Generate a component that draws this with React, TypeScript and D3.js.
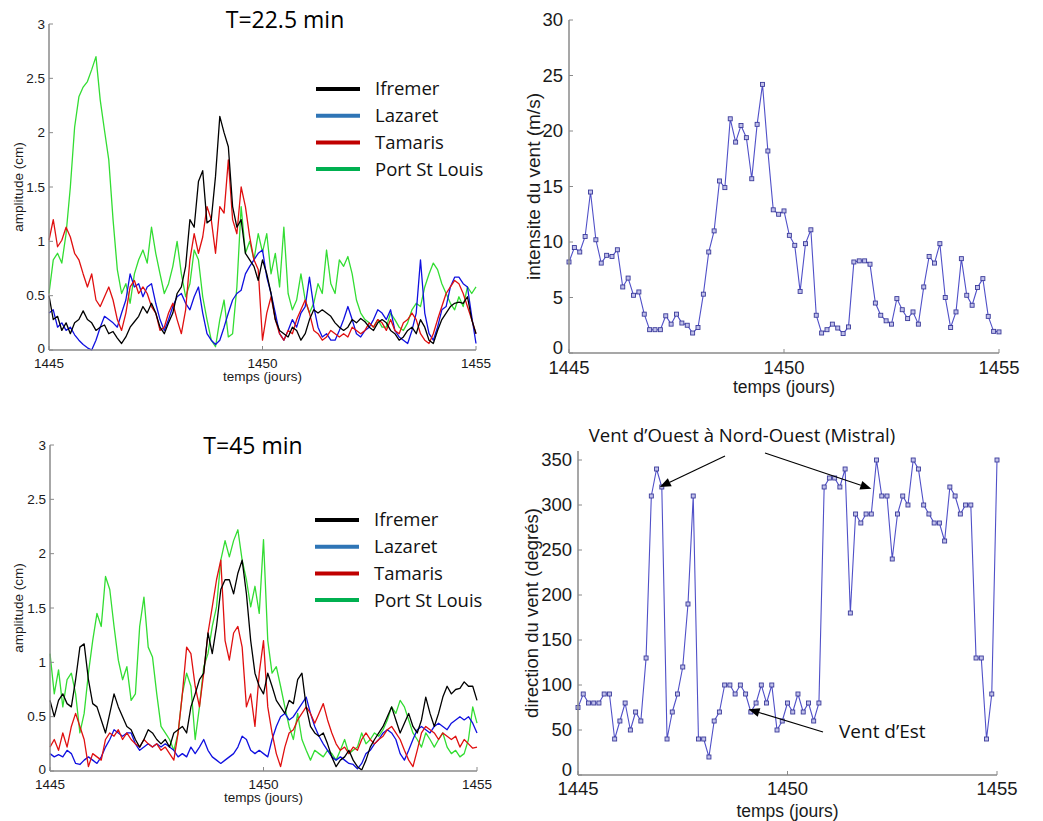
import React from "react";
import * as d3 from "d3";

// ---------- DATA ----------
const X_TICKS = [1445, 1450, 1455];
const AMP_TICKS = [0, 0.5, 1, 1.5, 2, 2.5, 3];
const SPEED_TICKS = [0, 5, 10, 15, 20, 25, 30];
const DIR_TICKS = [0, 50, 100, 150, 200, 250, 300, 350];

const STATIONS = ["Ifremer", "Lazaret", "Tamaris", "Port St Louis"];
const LINE_COLORS = ["#000000", "#1010e0", "#e01010", "#33dd33"];
const LEGEND_COLORS = ["#000000", "#2e75b6", "#c00000", "#00b050"];

// amplitudes every 0.1 day from 1445.0 to 1455.0 (101 values)
const T22_ifremer = [
  0.5, 0.28, 0.31, 0.18, 0.25, 0.15, 0.25, 0.28, 0.36, 0.28,
  0.25, 0.18, 0.21, 0.23, 0.15, 0.17, 0.11, 0.06, 0.12, 0.21,
  0.26, 0.31, 0.4, 0.34, 0.43, 0.34, 0.21, 0.15, 0.25, 0.34,
  0.52, 0.58, 0.77, 1.2, 1.13, 1.55, 1.65, 1.17, 1.2, 1.6,
  2.15, 2.0, 1.87, 1.32, 1.13, 1.2, 0.89, 0.83, 0.77, 0.64,
  0.83, 0.7, 0.52, 0.28, 0.18, 0.15, 0.12, 0.21, 0.18, 0.09,
  0.15, 0.28, 0.37, 0.34, 0.37, 0.34, 0.31, 0.25, 0.21, 0.18,
  0.21, 0.28, 0.25, 0.29, 0.26, 0.21, 0.18, 0.25, 0.28, 0.25,
  0.18, 0.15, 0.09, 0.12, 0.18, 0.21, 0.15, 0.28, 0.21, 0.09,
  0.06, 0.18, 0.28, 0.34, 0.4, 0.43, 0.44, 0.43, 0.49, 0.28,
  0.15,
];
const T22_lazaret = [
  0.34, 0.37, 0.21, 0.25, 0.18, 0.21, 0.14, 0.09, 0.05, 0.02,
  0.0, 0.09, 0.21, 0.31, 0.28, 0.25, 0.21, 0.34, 0.46, 0.7,
  0.58, 0.61, 0.49, 0.58, 0.61, 0.43, 0.28, 0.18, 0.28, 0.4,
  0.49, 0.52, 0.43, 0.37, 0.49, 0.58, 0.34, 0.15, 0.09, 0.05,
  0.09, 0.21, 0.34, 0.46, 0.52, 0.55, 0.7, 0.77, 0.83, 0.89,
  0.92, 0.67, 0.52, 0.34, 0.15, 0.09, 0.18, 0.28, 0.21, 0.34,
  0.4, 0.67, 0.4, 0.21, 0.12, 0.15, 0.09, 0.09, 0.18, 0.28,
  0.4, 0.28, 0.15, 0.12, 0.18, 0.21, 0.28, 0.37, 0.34, 0.28,
  0.37, 0.18, 0.12, 0.09, 0.06, 0.18, 0.34, 0.83, 0.34, 0.15,
  0.09, 0.21, 0.37, 0.4, 0.58, 0.67, 0.67, 0.61, 0.58, 0.31,
  0.06,
];
const T22_tamaris = [
  1.01, 1.2, 0.95, 1.01, 1.13, 1.04, 0.89, 0.83, 0.7, 0.58,
  0.7, 0.46, 0.4, 0.49, 0.58, 0.46, 0.28, 0.18, 0.34, 0.58,
  0.64, 0.52, 0.58, 0.52, 0.4, 0.34, 0.18, 0.21, 0.34, 0.43,
  0.28, 0.15, 0.37, 0.83, 1.07, 0.89, 1.04, 1.32, 1.2, 0.89,
  1.32, 1.26, 1.75, 1.2, 1.07, 1.5, 1.32, 1.04, 0.83, 0.74,
  0.09, 0.34, 0.49, 0.28, 0.15, 0.09, 0.18, 0.15, 0.28, 0.37,
  0.46, 0.34, 0.18, 0.15, 0.09, 0.12, 0.18, 0.15, 0.12, 0.15,
  0.12, 0.21, 0.18, 0.15, 0.18, 0.25, 0.21, 0.28, 0.25, 0.18,
  0.28, 0.18, 0.15, 0.25, 0.28, 0.34, 0.28, 0.15, 0.09, 0.06,
  0.15, 0.28, 0.4, 0.52, 0.58, 0.64, 0.61, 0.52, 0.4, 0.28,
  0.15,
];
const T22_portStLouis = [
  0.52, 0.83, 0.89, 0.8, 1.07, 1.5, 2.05, 2.33, 2.42, 2.47,
  2.58, 2.7, 2.3, 2.02, 1.75, 1.2, 0.74, 0.52, 0.61, 0.43,
  0.7, 0.83, 0.92, 0.8, 1.13, 0.89, 0.7, 0.52, 0.61, 0.77,
  1.0, 0.7, 0.49, 0.61, 0.92, 0.83, 0.49, 0.28, 0.09, 0.03,
  0.28, 0.46, 0.12, 0.15, 0.58, 1.32, 0.89, 1.0, 0.83, 1.07,
  0.9, 1.07, 0.7, 0.89, 0.58, 1.13, 0.52, 0.37, 0.46, 0.7,
  0.46, 0.34, 0.43, 0.61, 0.52, 0.92, 0.61, 0.52, 0.83, 0.77,
  0.86, 0.7, 0.46, 0.34, 0.28, 0.25, 0.21, 0.28, 0.21, 0.21,
  0.34, 0.28, 0.21, 0.18, 0.25, 0.37, 0.43, 0.4, 0.58, 0.7,
  0.8, 0.74, 0.61, 0.52, 0.43, 0.37, 0.49, 0.4, 0.58, 0.52,
  0.58,
];

const T45_ifremer = [
  0.65, 0.5, 0.65, 0.71, 0.62, 0.59, 0.84, 1.14, 1.17, 0.84,
  0.62, 0.59, 0.47, 0.35, 0.53, 0.71, 0.59, 0.5, 0.41, 0.38,
  0.29, 0.22, 0.29, 0.38, 0.35, 0.29, 0.25, 0.29, 0.22, 0.35,
  0.38, 0.41, 0.35, 0.59, 0.71, 0.84, 0.9, 1.27, 1.08, 1.33,
  1.67, 1.76, 1.76, 1.63, 1.82, 1.94, 1.63, 1.2, 0.9, 0.78,
  0.71, 0.9, 0.78, 0.65, 0.59, 0.53, 0.65, 0.62, 0.84, 0.9,
  0.59, 0.41, 0.35, 0.32, 0.35, 0.25, 0.13, 0.04, 0.1, 0.13,
  0.19, 0.1, 0.04, 0.01, 0.1, 0.22, 0.29, 0.35, 0.41, 0.5,
  0.59, 0.47, 0.35, 0.44, 0.53, 0.41, 0.35, 0.47, 0.68, 0.53,
  0.41, 0.53, 0.68, 0.78, 0.71, 0.75, 0.76, 0.82, 0.78, 0.78,
  0.65,
];
const T45_lazaret = [
  0.16, 0.13, 0.15, 0.13, 0.19, 0.16, 0.07, 0.06, 0.1, 0.13,
  0.1, 0.07, 0.13, 0.22, 0.29, 0.38, 0.35, 0.32, 0.35, 0.35,
  0.25, 0.19, 0.22, 0.25, 0.22, 0.25, 0.22, 0.25, 0.22, 0.19,
  0.13, 0.16, 0.13, 0.22, 0.16, 0.22, 0.29, 0.19, 0.13, 0.1,
  0.07, 0.1, 0.13, 0.16, 0.22, 0.32, 0.29, 0.19, 0.16, 0.19,
  0.16, 0.13, 0.29, 0.41, 0.5, 0.53, 0.47, 0.5, 0.56, 0.62,
  0.68, 0.53, 0.41, 0.32, 0.25, 0.19, 0.13, 0.1, 0.13, 0.1,
  0.07, 0.06, 0.02, 0.07, 0.16, 0.19, 0.25, 0.29, 0.35, 0.38,
  0.35, 0.29, 0.16, 0.1, 0.19, 0.29, 0.38, 0.41, 0.38, 0.35,
  0.41, 0.44, 0.41, 0.38, 0.44, 0.47, 0.5, 0.47, 0.5, 0.44,
  0.35,
];
const T45_tamaris = [
  0.22, 0.29, 0.19, 0.35, 0.22, 0.41, 0.53, 0.41, 0.29, 0.04,
  0.16, 0.13, 0.1, 0.29, 0.35, 0.32, 0.38, 0.29, 0.35, 0.29,
  0.25, 0.22, 0.29, 0.25, 0.22, 0.25, 0.19, 0.22, 0.16, 0.1,
  0.35, 0.71, 1.14, 1.08, 0.78, 0.59, 0.9, 1.27, 1.51, 1.76,
  1.94, 1.2, 1.02, 1.27, 1.33, 1.14, 0.59, 0.71, 0.41, 0.9,
  1.2, 0.59, 0.35, 0.16, 0.04, 0.22, 0.35, 0.38, 0.47, 0.53,
  0.59, 0.53, 0.44, 0.53, 0.62, 0.47, 0.35, 0.25, 0.19, 0.22,
  0.16, 0.22, 0.19, 0.29, 0.35, 0.29, 0.25, 0.29, 0.32, 0.38,
  0.41, 0.35, 0.29, 0.19, 0.1, 0.04, 0.19, 0.35, 0.41, 0.38,
  0.35, 0.29, 0.35, 0.32, 0.29, 0.32, 0.22, 0.29, 0.25, 0.21,
  0.22,
];
const T45_portStLouis = [
  1.08, 0.71, 0.93, 0.59, 0.84, 0.9, 0.71, 0.35, 0.53, 0.9,
  1.2, 1.45, 1.33, 1.79, 1.67, 1.33, 1.02, 0.84, 0.96, 0.65,
  0.71, 1.33, 1.6, 1.14, 1.05, 0.71, 0.41, 0.35, 0.29, 0.19,
  0.35, 0.71, 0.9, 0.78, 0.29, 0.59, 0.96, 1.08, 1.33, 1.51,
  1.94, 2.12, 1.97, 2.12, 2.22, 1.94, 1.76, 1.51, 1.7, 1.45,
  2.13, 1.2, 0.9, 0.96, 0.78, 0.59, 0.41, 0.29, 0.53, 0.29,
  0.19, 0.1, 0.19, 0.16, 0.13, 0.19, 0.16, 0.1, 0.19, 0.29,
  0.16, 0.19, 0.22, 0.35, 0.25, 0.29, 0.35, 0.32, 0.38, 0.47,
  0.59, 0.53, 0.65, 0.59, 0.47, 0.35, 0.29, 0.22, 0.35, 0.29,
  0.22, 0.29, 0.35, 0.22, 0.16, 0.19, 0.13, 0.16, 0.29, 0.59,
  0.44,
];

// wind every 3 hours (0.125 day) from 1445 to 1455 (81 values)
const windSpeed = [
  8.2, 9.5, 9.1, 10.5, 14.5, 10.2, 8.1, 8.8, 8.7, 9.3,
  5.95, 6.75, 5.2, 5.5, 3.5, 2.1, 2.1, 2.1, 3.35, 2.6,
  3.5, 2.7, 2.5, 1.8, 2.3, 5.3, 9.1, 11.0, 15.5, 14.9,
  21.1, 19.0, 20.5, 19.4, 15.7, 20.6, 24.2, 18.2, 12.9, 12.5,
  12.8, 10.6, 9.7, 5.55, 9.85, 11.1, 3.4, 1.8, 2.1, 2.6,
  2.25, 1.75, 2.35, 8.2, 8.3, 8.3, 8.0, 4.5, 3.4, 2.9,
  2.6, 4.9, 3.9, 3.1, 3.7, 2.6, 5.95, 8.7, 8.1, 9.85,
  5.0, 2.3, 3.7, 8.5, 5.2, 4.3, 5.9, 6.7, 3.3, 1.95,
  1.9,
];
const windDir = [
  75, 90, 80, 80, 80, 90, 90, 40, 60, 80,
  50, 70, 60, 130, 310, 340, 320, 40, 70, 90,
  120, 190, 310, 40, 40, 20, 60, 70, 100, 100,
  90, 100, 90, 70, 80, 100, 80, 100, 50, 60,
  80, 70, 90, 70, 80, 60, 80, 320, 330, 330,
  320, 340, 180, 290, 280, 290, 290, 350, 310, 310,
  240, 290, 310, 300, 350, 340, 300, 290, 280, 280,
  260, 320, 310, 290, 300, 300, 130, 130, 40, 90,
  350,
];

const AMP_DAYS = T22_ifremer.map((_, i) => 1445 + i * 0.1);
const WIND_DAYS = windSpeed.map((_, i) => 1445 + i * 0.125);

// ---------- HELPERS ----------
const AXIS_COLOR = "#8a8a8a";
const TEXT_COLOR = "#1a1a1a";
const SANS = "'Liberation Sans', Arial, sans-serif";
const CAL = "'Open Sans', 'Noto Sans', sans-serif";

type Lin = d3.ScaleLinear<number, number>;

function Axes({ x, y, yTicks, fs, xLabelY, yLabelX, yLabel, xLabel, xLabelFs, yLabelFs, xTickY, yTickX, zeroDy }: {
  x: Lin; y: Lin; yTicks: number[]; fs: number; xLabelY: number; yLabelX: number;
  yLabel: string; xLabel: string; xLabelFs: number; yLabelFs: number; xTickY: number; yTickX: number; zeroDy: string;
}) {
  const [x0, x1] = x.range();
  const [y0, y1] = y.range();
  const tl = 4;
  return (
    <g>
      <line x1={x0} x2={x1} y1={y0} y2={y0} stroke={AXIS_COLOR} strokeWidth={1.5} />
      <line x1={x0} x2={x0} y1={y0} y2={y1} stroke={AXIS_COLOR} strokeWidth={1.5} />
      {X_TICKS.map((t) => (
        <g key={"x" + t}>
          <line x1={x(t)} x2={x(t)} y1={y0} y2={y0 - tl} stroke={AXIS_COLOR} strokeWidth={1} />
          <text x={x(t)} y={xTickY} textAnchor="middle" fontSize={fs} fontFamily={SANS} fill={TEXT_COLOR}>{t}</text>
        </g>
      ))}
      {yTicks.map((t) => (
        <g key={"y" + t}>
          <line x1={x0} x2={x0 + tl} y1={y(t)} y2={y(t)} stroke={AXIS_COLOR} strokeWidth={1} />
          <text x={yTickX} y={y(t)} dy={t === 0 ? zeroDy : "0.35em"} textAnchor="end" fontSize={fs} fontFamily={SANS} fill={TEXT_COLOR}>{String(t)}</text>
        </g>
      ))}
      <text x={(x0 + x1) / 2} y={xLabelY} textAnchor="middle" fontSize={xLabelFs} fontFamily={SANS} fill={TEXT_COLOR}>{xLabel}</text>
      <text transform={`translate(${yLabelX},${(y0 + y1) / 2}) rotate(-90)`} textAnchor="middle" dy="0.35em" fontSize={yLabelFs} fontFamily={SANS} fill={TEXT_COLOR}>{yLabel}</text>
    </g>
  );
}

function AmpPanel({ xr, yr, series, title, titleX, titleY, legendX, legendY0 }: {
  xr: [number, number]; yr: [number, number]; series: number[][]; title: string;
  titleX: number; titleY: number; legendX: number; legendY0: number;
}) {
  const x = d3.scaleLinear().domain([1445, 1455]).range(xr);
  const y = d3.scaleLinear().domain([0, 3]).range(yr);
  const line = d3.line<number>().x((_, i) => x(AMP_DAYS[i])).y((v) => y(v));
  const order = [3, 1, 2, 0];
  return (
    <g>
      {order.map((k) => (
        <path key={k} d={line(series[k]) || ""} fill="none" stroke={LINE_COLORS[k]} strokeWidth={1.3} strokeLinejoin="round" />
      ))}
      <Axes x={x} y={y} yTicks={AMP_TICKS} fs={13.5} xTickY={yr[0] + 18} yTickX={xr[0] - 4}
        xLabel="temps (jours)" yLabel="amplitude (cm)" xLabelY={yr[0] + 31} yLabelX={18}
        xLabelFs={13.5} yLabelFs={13.5} zeroDy="0.2em" />
      <text x={titleX} y={titleY} textAnchor="middle" fontSize={23} fontFamily={CAL} fill="#000">{title}</text>
      {STATIONS.map((s, i) => (
        <g key={s}>
          <line x1={legendX} x2={legendX + 44} y1={legendY0 + i * 26.7} y2={legendY0 + i * 26.7} stroke={LEGEND_COLORS[i]} strokeWidth={4} />
          <text x={legendX + 59} y={legendY0 + i * 26.7} dy="0.35em" fontSize={18.5} fontFamily={CAL} fill="#111">{s}</text>
        </g>
      ))}
    </g>
  );
}

function WindPanel({ xr, yr, dom, ticks, values, yLabel, fs, xTickY, yTickX, xLabelY, yLabelX, yLabelFs }: {
  xr: [number, number]; yr: [number, number]; dom: [number, number]; ticks: number[]; values: number[];
  yLabel: string; fs: number; xTickY: number; yTickX: number; xLabelY: number; yLabelX: number; yLabelFs: number;
}) {
  const x = d3.scaleLinear().domain([1445, 1455]).range(xr);
  const y = d3.scaleLinear().domain(dom).range(yr);
  const line = d3.line<number>().x((_, i) => x(WIND_DAYS[i])).y((v) => y(v));
  return (
    <g>
      <path d={line(values) || ""} fill="none" stroke="#5050c8" strokeWidth={1.1} />
      {values.map((v, i) => (
        <rect key={i} x={x(WIND_DAYS[i]) - 2} y={y(v) - 2} width={4} height={4} fill="#c0c0ea" stroke="#3a3a9a" strokeWidth={0.9} />
      ))}
      <Axes x={x} y={y} yTicks={ticks} fs={fs} xTickY={xTickY} yTickX={yTickX}
        xLabel="temps (jours)" yLabel={yLabel} xLabelY={xLabelY} yLabelX={yLabelX}
        xLabelFs={17.5} yLabelFs={yLabelFs} zeroDy="0.05em" />
    </g>
  );
}

function Arrow({ x1, y1, x2, y2 }: { x1: number; y1: number; x2: number; y2: number }) {
  const ang = Math.atan2(y2 - y1, x2 - x1);
  const L = 11, W = 4.5;
  const bx = x2 - L * Math.cos(ang), by = y2 - L * Math.sin(ang);
  const px = -Math.sin(ang) * W, py = Math.cos(ang) * W;
  return (
    <g>
      <line x1={x1} y1={y1} x2={bx} y2={by} stroke="#000" strokeWidth={1.2} />
      <path d={`M${x2},${y2} L${bx + px},${by + py} L${bx - px},${by - py} Z`} fill="#000" />
    </g>
  );
}

export default function App() {
  const dirX = d3.scaleLinear().domain([1445, 1455]).range([578, 997]);
  const dirY = d3.scaleLinear().domain([0, 360]).range([775, 451]);
  return (
    <svg width={1043} height={821} style={{ position: "absolute", left: 0, top: 0, background: "#fff" }}>
      <rect width={1043} height={821} fill="#fff" />
      <AmpPanel xr={[49, 476]} yr={[350, 24]} series={[T22_ifremer, T22_lazaret, T22_tamaris, T22_portStLouis]}
        title="T=22.5 min" titleX={285} titleY={28} legendX={316} legendY0={89} />
      <AmpPanel xr={[50, 477]} yr={[771, 445]} series={[T45_ifremer, T45_lazaret, T45_tamaris, T45_portStLouis]}
        title="T=45 min" titleX={253} titleY={454} legendX={315} legendY0={520} />
      <WindPanel xr={[569, 999]} yr={[353, 20]} dom={[0, 30]} ticks={SPEED_TICKS} values={windSpeed}
        yLabel="intensite du vent (m/s)" fs={18.5} xTickY={374} yTickX={563} xLabelY={393} yLabelX={533} yLabelFs={19} />
      <WindPanel xr={[578, 997]} yr={[775, 451]} dom={[0, 360]} ticks={DIR_TICKS} values={windDir}
        yLabel="direction du vent (degrés)" fs={18.5} xTickY={795} yTickX={572} xLabelY={817} yLabelX={532} yLabelFs={18.5} />
      <text x={742} y={442} textAnchor="middle" fontSize={18.5} fontFamily={CAL} fill="#111">Vent d’Ouest à Nord-Ouest (Mistral)</text>
      <Arrow x1={725} y1={456} x2={dirX(1447.0) - 2} y2={dirY(320)} />
      <Arrow x1={765} y1={453} x2={dirX(1452.0)} y2={dirY(318)} />
      <text x={839} y={738} fontSize={19} fontFamily={CAL} fill="#111">Vent d’Est</text>
      <Arrow x1={823} y1={732} x2={dirX(1449.07)} y2={dirY(73)} />
    </svg>
  );
}
